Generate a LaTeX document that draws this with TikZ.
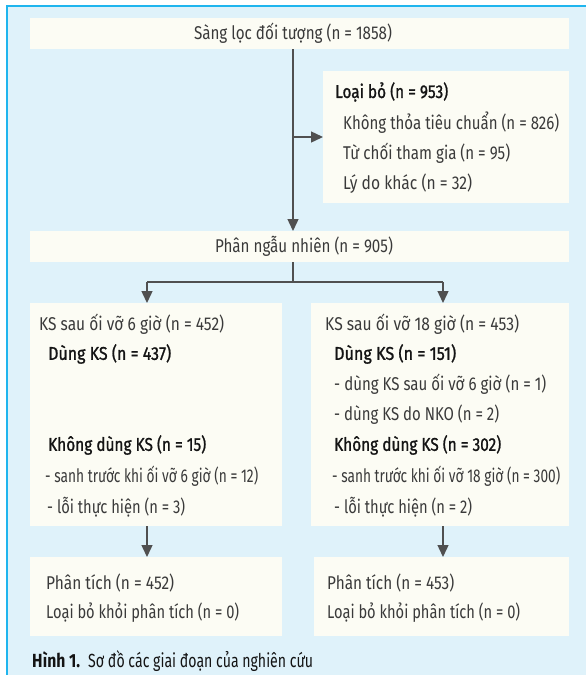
\documentclass[tikz,border=0pt]{standalone}
\usepackage{fontspec}
\usepackage{graphicx}
\setmainfont{Fira Sans}
\newfontfamily\hdfont{Fira Sans}[FakeBold=1.2]
\usetikzlibrary{arrows.meta}
\definecolor{bgblue}{HTML}{DFF2FA}
\definecolor{edgeblue}{HTML}{1FB5EE}
\definecolor{cream}{HTML}{FCFCF4}
\definecolor{txt}{HTML}{3A3A3A}
\definecolor{hdtxt}{HTML}{141414}
\definecolor{arrowc}{HTML}{505050}
\newcommand\fitw[2]{\resizebox{#1}{\height}{#2}}
\begin{document}
\begin{tikzpicture}[x=1pt,y=-1pt,
  box/.style={fill=cream, draw=none, inner sep=0pt, outer sep=0pt},
  lbl/.style={anchor=west, inner sep=0pt, font=\fontsize{18.5}{20}\selectfont, text=txt},
  hd/.style={lbl, font=\fontsize{18.5}{20}\selectfont\hdfont, text=hdtxt},
  ctr/.style={lbl, anchor=center},
  ln/.style={draw=arrowc, line width=1.4pt},
  arr/.style={ln, -{Triangle[width=11pt,length=12pt]}}]
\useasboundingbox (0,0) rectangle (586,675);
\fill[white] (0,0) rectangle (586,675);
\fill[bgblue] (7,6) rectangle (586,675);
\draw[edgeblue, line width=2pt] (7,675) -- (7,6) -- (586,6);

% boxes
\node[box, minimum width=539pt, minimum height=31pt] (top) at (299.5,33.5) {};
\node[box, minimum width=246pt, minimum height=132pt] (excl) at (446,137) {};
\node[box, minimum width=539pt, minimum height=31pt] (rand) at (299.5,246.5) {};
\node[box, minimum width=252pt, minimum height=223pt] (armA) at (156,414.5) {};
\node[box, minimum width=258pt, minimum height=223pt] (armB) at (440,414.5) {};
\node[box, minimum width=252pt, minimum height=79pt] (anaA) at (156,596.5) {};
\node[box, minimum width=255pt, minimum height=79pt] (anaB) at (441.5,596.5) {};

% texts
\node[ctr] (tTop) at (293,33) {\fitw{198pt}{Sàng lọc đối tượng (n = 1858)}};
\node[hd] (tEx) at (335,92) {\fitw{113pt}{Loại bỏ (n = 953)}};
\node[lbl] (tEx1) at (343,122.5) {\fitw{216pt}{Không thỏa tiêu chuẩn (n = 826)}};
\node[lbl] (tEx2) at (343,153.5) {\fitw{167pt}{Từ chối tham gia (n = 95)}};
\node[lbl] (tEx3) at (343,184) {\fitw{129pt}{Lý do khác (n = 32)}};
\node[ctr] (tRand) at (304,246) {\fitw{178pt}{Phân ngẫu nhiên (n = 905)}};

\node[lbl] (tA0) at (39,324) {\fitw{185pt}{KS sau ối vỡ 6 giờ (n = 452)}};
\node[hd] (tA1) at (48,354) {\fitw{123pt}{Dùng KS (n = 437)}};
\node[hd] (tA2) at (48,445) {\fitw{158pt}{Không dùng KS (n = 15)}};
\node[lbl] (tA3) at (45,476) {\fitw{213pt}{- sanh trước khi ối vỡ 6 giờ (n = 12)}};
\node[lbl] (tA4) at (47,507) {\fitw{138pt}{- lỗi thực hiện (n = 3)}};

\node[lbl] (tB0) at (325,324) {\fitw{194pt}{KS sau ối vỡ 18 giờ (n = 453)}};
\node[hd] (tB1) at (334,354) {\fitw{122pt}{Dùng KS (n = 151)}};
\node[lbl] (tB2) at (334,384) {\fitw{212pt}{- dùng KS sau ối vỡ 6 giờ (n = 1)}};
\node[lbl] (tB3) at (334,415) {\fitw{165pt}{- dùng KS do NKO (n = 2)}};
\node[hd] (tB4) at (334,445) {\fitw{167pt}{Không dùng KS (n = 302)}};
\node[lbl] (tB5) at (332,476) {\fitw{228pt}{- sanh trước khi ối vỡ 18 giờ (n = 300)}};
\node[lbl] (tB6) at (334,507) {\fitw{138pt}{- lỗi thực hiện (n = 2)}};

\node[lbl] (tC1) at (46,583) {\fitw{128pt}{Phân tích (n = 452)}};
\node[lbl] (tC2) at (46,613) {\fitw{193pt}{Loại bỏ khỏi phân tích (n = 0)}};
\node[lbl] (tD1) at (327,583) {\fitw{127pt}{Phân tích (n = 453)}};
\node[lbl] (tD2) at (327,613) {\fitw{193pt}{Loại bỏ khỏi phân tích (n = 0)}};

\node[lbl, text=hdtxt, font=\fontsize{19}{21}\selectfont] (cap) at (32,661)
  {\fitw{48pt}{\bfseries Hình 1.}\hspace{8pt}\fitw{225pt}{Sơ đồ các giai đoạn của nghiên cứu}};

% connectors
\coordinate (trunk) at (293,0);
\coordinate (split) at (293,282);
\coordinate (leftc) at (147,282);
\coordinate (rightc) at (443,282);
\draw[arr] (top.south -| trunk) -- (rand.north -| trunk);
\draw[arr] (trunk |- excl.west) -- (excl.west);
\draw[ln] (rand.south -| trunk) -- (split);
\draw[ln] (leftc) -- (rightc);
\draw[arr] (leftc) -- (armA.north -| leftc);
\draw[arr] (rightc) -- (armB.north -| rightc);
\draw[arr] (armA.south -| leftc) -- (anaA.north -| leftc);
\draw[arr] (armB.south -| rightc) -- (anaB.north -| rightc);
\end{tikzpicture}
\end{document}
